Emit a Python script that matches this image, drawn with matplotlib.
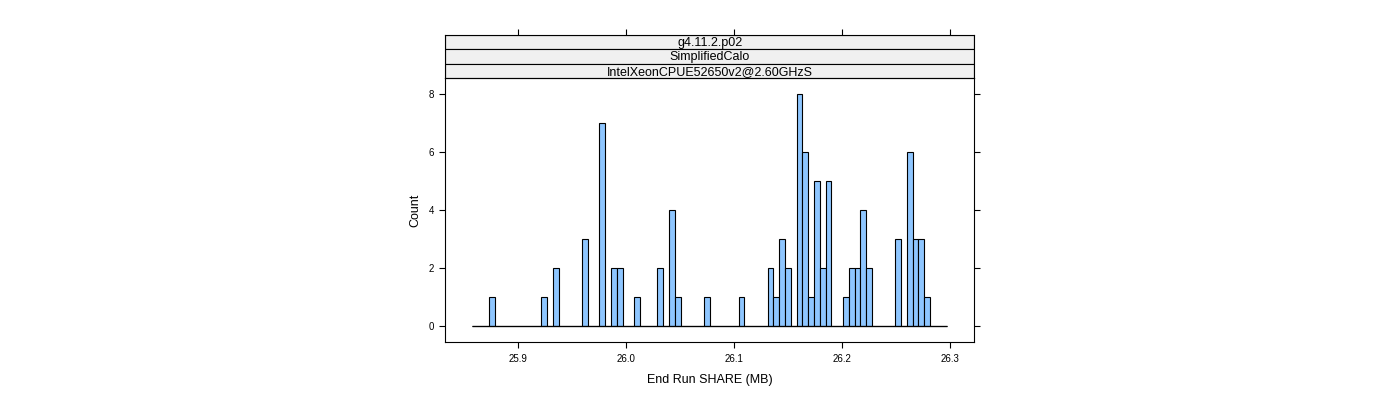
import matplotlib
matplotlib.use("Agg")
import matplotlib.pyplot as plt
import numpy as np
from matplotlib.patches import Rectangle

plt.rcParams["font.family"] = ["Liberation Sans", "DejaVu Sans"]

# --- dati: istogramma a conteggi ---
bin_start = 25.8578
bin_width = 0.005364
counts = [
    0, 0, 0, 1, 0, 0, 0, 0, 0, 0,
    0, 0, 1, 0, 2, 0, 0, 0, 0, 3,
    0, 0, 7, 0, 2, 2, 0, 0, 1, 0,
    0, 0, 2, 0, 4, 1, 0, 0, 0, 0,
    1, 0, 0, 0, 0, 0, 1, 0, 0, 0,
    0, 2, 1, 3, 2, 0, 8, 6, 1, 5,
    2, 5, 0, 0, 1, 2, 2, 4, 2, 0,
    0, 0, 0, 3, 0, 6, 3, 3, 1, 0,
    0, 0,
]
strip_labels = ["g4.11.2.p02", "SimplifiedCalo", "IntelXeonCPUE52650v2@2.60GHzS"]
x_ticks = [25.9, 26.0, 26.1, 26.2, 26.3]
y_ticks = [0, 2, 4, 6, 8]
x_label = "End Run SHARE (MB)"
y_label = "Count"

# --- colori ---
C_BAR = "#8EC6FF"
C_STRIP = "#F0F0F0"

counts = np.asarray(counts, dtype=float)
edges = bin_start + bin_width * np.arange(len(counts) + 1)
xlim = (25.8332, 26.3225)
ylim = (-0.544, 8.543)

fig = plt.figure(figsize=(14, 4), dpi=100)

# --- pannello ---
ax = fig.add_axes([0.31807, 0.14425, 0.37786, 0.66])
ax.bar(edges[:-1], counts, width=bin_width, align="edge",
       color=C_BAR, edgecolor="black", linewidth=0.8)
ax.hlines(0, edges[0], edges[-1], color="black", linewidth=0.9)
ax.set_xlim(*xlim)
ax.set_ylim(*ylim)
ax.set_xticks(x_ticks)
ax.set_xticklabels([f"{v:.1f}" for v in x_ticks])
ax.set_yticks(y_ticks)
ax.tick_params(axis="both", direction="out", length=4.3, width=0.8,
               labelsize=7, pad=4, colors="black")
ax.tick_params(axis="y", right=True, labelright=False)
for sp in ax.spines.values():
    sp.set_linewidth(0.8)
ax.set_xlabel(x_label, fontsize=9, labelpad=7)
ax.set_ylabel(y_label, fontsize=9, labelpad=5)

# --- strisce (strip) ---
sax = fig.add_axes([0.31807, 0.80425, 0.37786, 0.109], sharex=ax)
sax.set_ylim(0, 1)
sax.set_yticks([])
sax.tick_params(axis="x", bottom=False, labelbottom=False, top=True,
                labeltop=False, direction="out", length=4.3, width=0.8)
n = len(strip_labels)
for i, lab in enumerate(strip_labels):
    y0 = 1 - (i + 1) / n
    sax.add_patch(Rectangle((0, y0), 1, 1 / n, transform=sax.transAxes,
                            facecolor=C_STRIP, edgecolor="black", linewidth=0.8))
    sax.text(0.5, y0 + 0.45 / n, lab, transform=sax.transAxes,
             ha="center", va="center", fontsize=9)
for sp in sax.spines.values():
    sp.set_linewidth(0.8)

fig.savefig("out.png", dpi=100)
